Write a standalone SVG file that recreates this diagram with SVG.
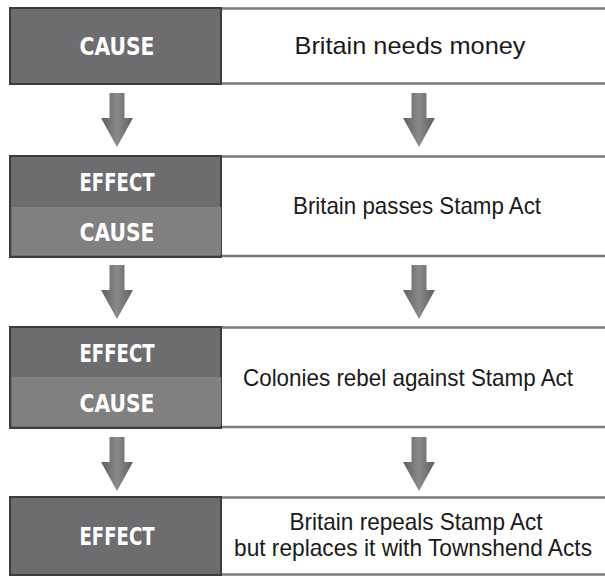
<svg xmlns="http://www.w3.org/2000/svg" width="605" height="576" viewBox="0 0 605 576">
<style>
.rule{stroke:#7a7a7a;stroke-width:2.5;fill:none}
.box{fill:#6d6d70;stroke:#3c3c3e;stroke-width:2}
.lite{fill:#808080}
.lbl{font-family:"DejaVu Sans Condensed","Liberation Sans",sans-serif;font-weight:bold;font-size:25px;fill:#ffffff;text-anchor:middle}
.txt{font-family:"Liberation Sans",Arial,sans-serif;font-size:24px;fill:#1a1a1a;text-anchor:middle}
.arr{fill:url(#ag)}
</style>
<defs>
<linearGradient id="ag" x1="0" y1="0" x2="1" y2="0">
<stop offset="0" stop-color="#5e5e5e"/>
<stop offset="0.5" stop-color="#8a8a8a"/>
<stop offset="1" stop-color="#5e5e5e"/>
</linearGradient>
<path id="arrow" d="M-7.5,0 H7.5 V25 H16 L0,54 L-16,25 H-7.5 Z"/>
</defs>
<rect width="605" height="576" fill="#ffffff"/>

<g id="row1">
<line class="rule" x1="10" y1="8.5" x2="605" y2="8.5"/>
<line class="rule" x1="10" y1="83.5" x2="605" y2="83.5"/>
<rect class="box" x="10" y="8" width="211" height="76"/>
<text class="lbl" x="117" y="55" textLength="75" lengthAdjust="spacingAndGlyphs">CAUSE</text>
<text class="txt" x="410" y="54" textLength="231" lengthAdjust="spacingAndGlyphs">Britain needs money</text>
</g>

<g id="row2">
<line class="rule" x1="10" y1="156.5" x2="605" y2="156.5"/>
<line class="rule" x1="10" y1="256" x2="605" y2="256"/>
<rect class="box" x="10" y="156" width="211" height="101"/>
<rect class="lite" x="12" y="207" width="209" height="48"/>
<text class="lbl" x="117" y="191" textLength="75" lengthAdjust="spacingAndGlyphs">EFFECT</text>
<text class="lbl" x="117" y="241" textLength="75" lengthAdjust="spacingAndGlyphs">CAUSE</text>
<text class="txt" x="417" y="214" textLength="248" lengthAdjust="spacingAndGlyphs">Britain passes Stamp Act</text>
</g>

<g id="row3">
<line class="rule" x1="10" y1="327.5" x2="605" y2="327.5"/>
<line class="rule" x1="10" y1="427" x2="605" y2="427"/>
<rect class="box" x="10" y="327" width="211" height="101"/>
<rect class="lite" x="12" y="377" width="209" height="49"/>
<text class="lbl" x="117" y="362" textLength="75" lengthAdjust="spacingAndGlyphs">EFFECT</text>
<text class="lbl" x="117" y="412" textLength="75" lengthAdjust="spacingAndGlyphs">CAUSE</text>
<text class="txt" x="408" y="386" textLength="330" lengthAdjust="spacingAndGlyphs">Colonies rebel against Stamp Act</text>
</g>

<g id="row4">
<line class="rule" x1="10" y1="497.5" x2="605" y2="497.5"/>
<line class="rule" x1="10" y1="574.5" x2="605" y2="574.5"/>
<rect class="box" x="10" y="497" width="211" height="78"/>
<text class="lbl" x="117" y="545" textLength="75" lengthAdjust="spacingAndGlyphs">EFFECT</text>
<text class="txt" x="416" y="530" textLength="253" lengthAdjust="spacingAndGlyphs">Britain repeals Stamp Act</text>
<text class="txt" x="413" y="556" textLength="358" lengthAdjust="spacingAndGlyphs">but replaces it with Townshend Acts</text>
</g>

<g id="connectors">
<use href="#arrow" class="arr" x="117" y="93"/>
<use href="#arrow" class="arr" x="419" y="93"/>
<use href="#arrow" class="arr" x="117" y="265"/>
<use href="#arrow" class="arr" x="419" y="265"/>
<use href="#arrow" class="arr" x="117" y="437"/>
<use href="#arrow" class="arr" x="419" y="437"/>
</g>
</svg>
